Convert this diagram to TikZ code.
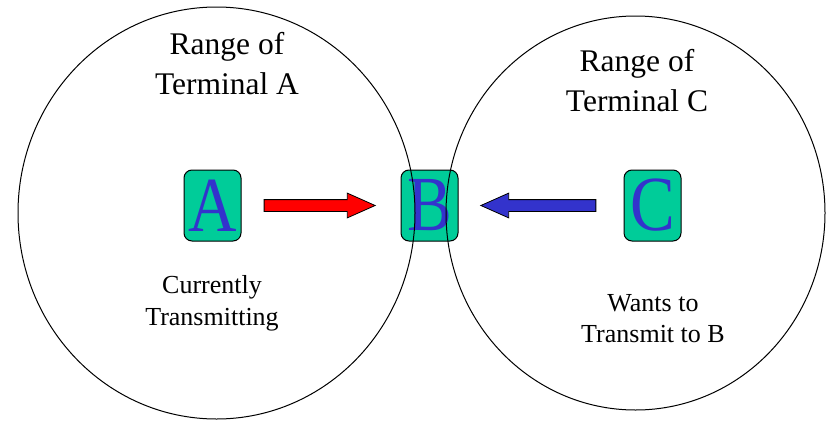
\documentclass[tikz,border=0pt]{standalone}
\usepackage{fontspec}
\setmainfont{Liberation Serif}
\usetikzlibrary{shapes.arrows,calc}
\definecolor{boxfill}{RGB}{0,204,153}
\definecolor{letterblue}{RGB}{51,51,204}
\newcommand{\narrowletter}[1]{\scalebox{0.86}[1]{#1}}
\begin{document}
\begin{tikzpicture}[x=1pt,y=-1pt,
  terminal/.style={draw=black, line width=1pt, fill=boxfill, rounded corners=8pt,
    minimum width=57pt, minimum height=71pt, inner sep=0pt, text=letterblue,
    font=\fontsize{78}{78}\selectfont},
  coverage/.style={draw=black, line width=1pt},
  signal/.style={single arrow, draw=black, line width=0.8pt, inner sep=5.5pt,
    single arrow head extend=6.5pt, single arrow tip angle=48},
  caption/.style={align=center, inner sep=0pt}
]
\useasboundingbox[fill=white] (0,0) rectangle (829,423);

% terminals
\node[terminal] (A) at (212.5,205.5) {\narrowletter{A}};
\node[terminal] (B) at (429.5,205.5) {\narrowletter{B}};
\node[terminal] (C) at (652.5,205.5) {\narrowletter{C}};

% transmission ranges, drawn over the terminals
\draw[coverage] (216.5,213) ellipse [x radius=198.5pt, y radius=206pt];
\draw[coverage] (635.5,213) ellipse [x radius=189.5pt, y radius=197pt];

% signals towards B
\node[signal, fill=red, minimum height=111pt, xshift=-8pt] (sa)
  at ($(A.east)!0.5!(B.west)$) {};
\node[signal, fill=letterblue, minimum height=115pt, xshift=4pt,
  shape border rotate=180] (sc) at ($(B.east)!0.5!(C.west)$) {};

% captions
\node[caption, font=\fontsize{31.5}{40}\selectfont] (ra) at (227,64)
  {Range of\\Terminal A};
\node[caption, font=\fontsize{31.5}{40}\selectfont] (rc) at (637,81)
  {Range of\\Terminal C};
\node[caption, font=\fontsize{26}{32}\selectfont] (ta) at (212,303)
  {Currently\\Transmitting};
\node[caption, font=\fontsize{26}{31}\selectfont] (tc) at (653,319)
  {Wants to\\Transmit to B};
\end{tikzpicture}
\end{document}
